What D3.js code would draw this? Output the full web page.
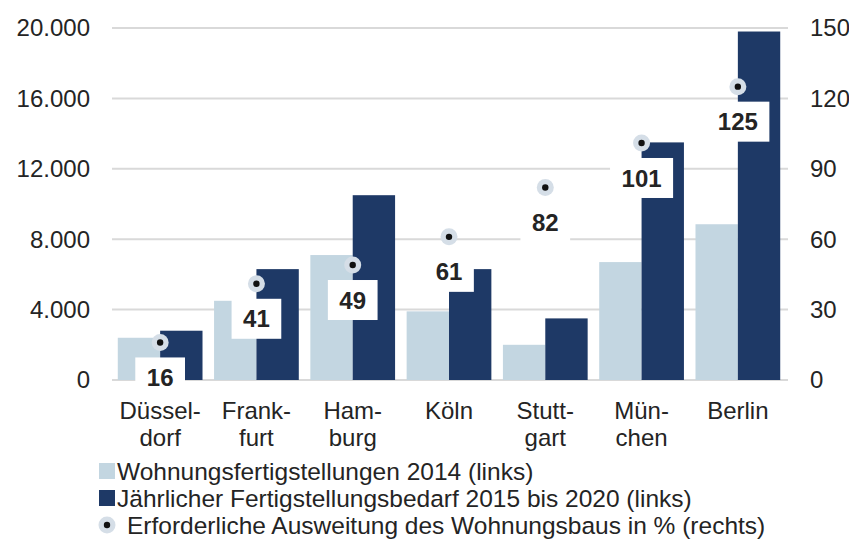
<!DOCTYPE html>
<html><head><meta charset="utf-8">
<script src="https://cdn.jsdelivr.net/npm/d3@7"></script>
<style>body{margin:0;background:#fff}</style>
</head><body>
<svg id="c" width="849" height="549"></svg>
<script>
const categories = [["Düssel-","dorf"],["Frank-","furt"],["Ham-","burg"],["Köln"],["Stutt-","gart"],["Mün-","chen"],["Berlin"]];
const completions2014 = [2400, 4500, 7100, 3900, 2000, 6700, 8850];
const annualDemand = [2800, 6300, 10500, 6300, 3500, 13500, 19800];
const expansionPct = [16, 41, 49, 61, 82, 101, 125];
const leftTicks = [0, 4000, 8000, 12000, 16000, 20000];
const rightTicks = [0, 30, 60, 90, 120, 150];
const legendLabels = ["Wohnungsfertigstellungen 2014 (links)", "Jährlicher Fertigstellungsbedarf 2015 bis 2020 (links)", "Erforderliche Ausweitung des Wohnungsbaus in % (rechts)"];

const LIGHT = "#c3d6e1", DARK = "#1e3966", GRID = "#d9d9d9", TXT = "#242424";
const FONT = "'Liberation Sans', Arial, sans-serif";
const FS = 24;
const svg = d3.select("#c");
const idx = d3.range(categories.length);
const x = d3.scaleBand().domain(idx).range([112, 786]);
const yL = d3.scaleLinear().domain([0, 20000]).range([380, 28]);
const yR = d3.scaleLinear().domain([0, 150]).range([380, 28]);
const bw = x.bandwidth() * 0.44;
const cx = i => x(i) + x.bandwidth() / 2;
const fmt = d => d3.format(",")(d).replace(/,/g, ".");

// grid
svg.append("g").selectAll("line").data(leftTicks).join("line")
  .attr("x1", 112).attr("x2", 788).attr("y1", d => yL(d)).attr("y2", d => yL(d))
  .attr("stroke", GRID).attr("stroke-width", 2);

// left axis labels
svg.append("g").selectAll("text").data(leftTicks).join("text")
  .attr("x", 90).attr("y", d => yL(d)).attr("dy", "0.35em").attr("text-anchor", "end")
  .attr("font-family", FONT).attr("font-size", FS).attr("fill", TXT).text(fmt);
// right axis labels
svg.append("g").selectAll("text").data(rightTicks).join("text")
  .attr("x", 810).attr("y", d => yR(d)).attr("dy", "0.35em").attr("text-anchor", "start")
  .attr("font-family", FONT).attr("font-size", FS).attr("fill", TXT).text(d => d);

// bars
svg.append("g").selectAll("rect").data(idx).join("rect")
  .attr("x", i => cx(i) - bw).attr("width", bw)
  .attr("y", i => yL(completions2014[i])).attr("height", i => yL(0) - yL(completions2014[i]))
  .attr("fill", LIGHT);
svg.append("g").selectAll("rect").data(idx).join("rect")
  .attr("x", i => cx(i)).attr("width", bw)
  .attr("y", i => yL(annualDemand[i])).attr("height", i => yL(0) - yL(annualDemand[i]))
  .attr("fill", DARK);

// label boxes
const lab = svg.append("g").selectAll("g").data(idx).join("g")
  .attr("transform", i => `translate(${cx(i)},${yR(expansionPct[i]) + 35})`);
lab.append("rect").attr("fill", "#fff");
const lt = lab.append("text").attr("text-anchor", "middle").attr("dy", "0.36em")
  .attr("font-family", FONT).attr("font-size", FS).attr("font-weight", "bold").attr("fill", TXT)
  .text(i => expansionPct[i]);
lt.each(function(i) {
  const w = this.getComputedTextLength() + 23;
  d3.select(this.parentNode).select("rect").attr("x", -w / 2).attr("y", -20).attr("width", w).attr("height", 40);
});

// points
const pts = svg.append("g").selectAll("g").data(idx).join("g")
  .attr("transform", i => `translate(${cx(i)},${yR(expansionPct[i])})`);
pts.append("circle").attr("r", 8.5).attr("fill", "#d5dee7");
pts.append("circle").attr("r", 3.2).attr("fill", "#111");

// category labels
const cl = svg.append("g").selectAll("text").data(idx).join("text")
  .attr("x", cx).attr("y", 419).attr("text-anchor", "middle")
  .attr("font-family", FONT).attr("font-size", FS).attr("fill", TXT);
cl.selectAll("tspan").data(i => categories[i]).join("tspan")
  .attr("x", function() { return d3.select(this.parentNode).attr("x"); })
  .attr("dy", (d, j) => j === 0 ? 0 : 27).text(d => d);

// legend
const leg = svg.append("g").selectAll("g").data(legendLabels).join("g")
  .attr("transform", (d, i) => `translate(0,${471 + i * 27})`);
leg.filter((d, i) => i < 2).append("rect").attr("x", 99).attr("y", -8).attr("width", 16).attr("height", 16)
  .attr("fill", (d, i) => i === 0 ? LIGHT : DARK);
leg.filter((d, i) => i === 2).append("circle").attr("cx", 107).attr("r", 8.5).attr("fill", "#d5dee7");
leg.filter((d, i) => i === 2).append("circle").attr("cx", 107).attr("r", 3.2).attr("fill", "#111");
leg.append("text").attr("x", (d, i) => i === 2 ? 127 : 117).attr("dy", "0.36em")
  .attr("font-family", FONT).attr("font-size", 24.5).attr("fill", TXT).text(d => d);
</script>
</body></html>
